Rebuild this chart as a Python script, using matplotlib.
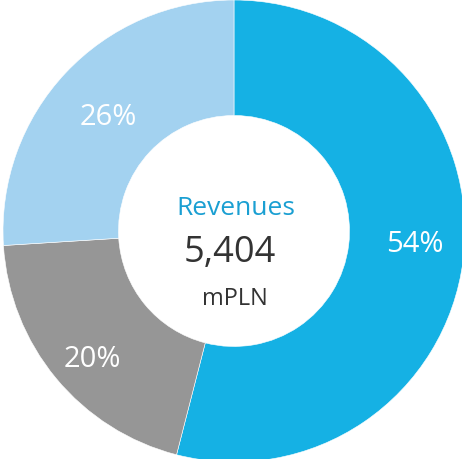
import matplotlib.pyplot as plt

# Дані
segments = ["A", "B", "C"]
shares = [54, 20, 26]
colors = ["#15B1E4", "#969696", "#A3D2F0"]
center_title = "Revenues"
center_value = "5,404"
center_unit = "mPLN"

plt.rcParams["font.family"] = ["Open Sans", "DejaVu Sans"]

fig = plt.figure(figsize=(4.62, 4.60), dpi=100)
ax = fig.add_axes([0, 0, 1, 1])

wedges, texts, autotexts = ax.pie(
    shares,
    colors=colors,
    startangle=90,
    counterclock=False,
    radius=1.0,
    autopct="%.0f%%",
    pctdistance=0.76,
    wedgeprops=dict(width=0.5, edgecolor="white", linewidth=0.4),
    textprops=dict(color="white", fontsize=21),
)

# невелике зміщення підписів
shifts = [(0.03, 0.043), (-0.026, -0.069), (0.01, -0.026)]
for t, (dx, dy) in zip(autotexts, shifts):
    x, y = t.get_position()
    t.set_position((x + dx, y + dy))

ax.text(0.01, 0.10, center_title, ha="center", va="center", fontsize=19, color="#1A9FD2")
ax.text(-0.02, -0.09, center_value, ha="center", va="center", fontsize=26, color="#333333")
ax.text(0.005, -0.29, center_unit, ha="center", va="center", fontsize=17, color="#333333")

ax.set_xlim(-234 / 231, 228 / 231)
ax.set_ylim(-228 / 231, 232 / 231)
ax.set_aspect("auto")
ax.axis("off")

fig.savefig("out.png", dpi=100)
